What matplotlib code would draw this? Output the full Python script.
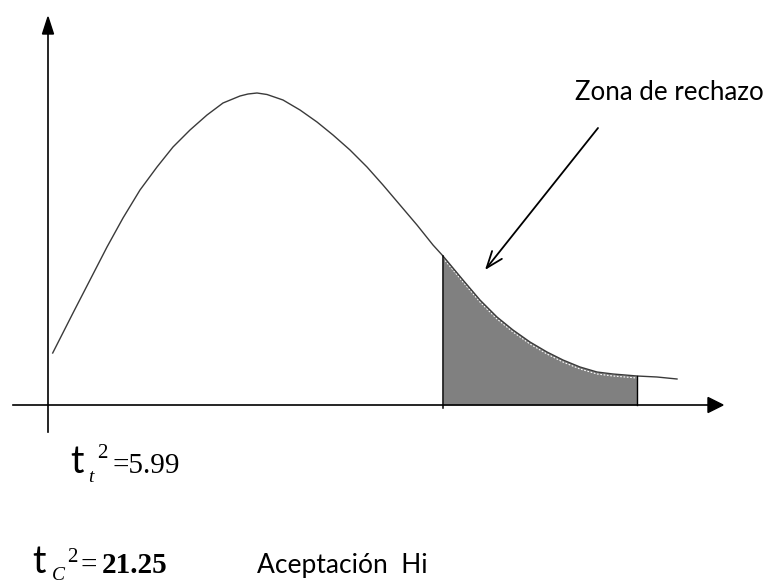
import matplotlib
matplotlib.use("Agg")
import matplotlib.pyplot as plt
import numpy as np

# Density curve (schematic chi-square-like)
curve_x = [4.7, 25, 42, 59, 75, 92, 109, 125, 142, 159, 175, 192, 200, 209, 219, 235,
           252, 269, 285, 302, 319, 335, 352, 369, 385, 395, 415, 432, 449, 465,
           482, 499, 515, 532, 549, 565, 589, 609, 629]
curve_y = [52, 92, 125, 158, 187, 215, 238, 258, 275, 290, 302, 309, 311, 312, 310.5, 305,
           295, 283, 270, 255, 238, 220, 200, 180, 160, 149, 125, 105, 88, 75,
           63, 53, 45, 38, 33, 31, 29, 28, 26]

# Rejection zone limits
zone_start = 395
zone_end = 589

label_zone = "Zona de rechazo"
label_tt_value = "=5.99"
label_tc_value = "21.25"
label_decision = "Aceptación  Hi"

fig = plt.figure(figsize=(7.74, 5.83), dpi=100)
ax = fig.add_axes([0, 0, 1, 1])
ax.set_xlim(-48, 726)
ax.set_ylim(-178, 405)
ax.axis("off")

cx = np.array(curve_x, dtype=float)
cy = np.array(curve_y, dtype=float)

# shaded rejection region
mask = (cx >= zone_start) & (cx <= zone_end)
ax.fill_between(cx[mask], 0, cy[mask], color="#808080", lw=0, zorder=1)

# curve
ax.plot(cx, cy, color="#3a3a3a", lw=1.0, zorder=3, solid_joinstyle="round")
ax.plot(cx[mask], cy[mask] - 2, color="white", lw=0.8, ls=(0, (1.5, 1.5)), zorder=2)

# boundary verticals
y_start = np.interp(zone_start, cx, cy)
y_end = np.interp(zone_end, cx, cy)
ax.plot([zone_start, zone_start], [-3, y_start], color="black", lw=1.1, zorder=4)
ax.plot([zone_end, zone_end], [0, y_end], color="black", lw=1.0, zorder=4)

# axes with arrow heads
ax.plot([-35, 662], [0, 0], color="black", lw=1.2, zorder=4)
ax.add_patch(plt.Polygon([[660, 7.5], [660, -7.5], [675, 0]], closed=True,
                         color="black", zorder=5))
ax.plot([0, 0], [-27, 372], color="black", lw=1.2, zorder=4)
ax.add_patch(plt.Polygon([[-5.5, 371], [5.5, 371], [0, 388]], closed=True,
                         color="black", zorder=5))

# annotation
ax.annotate("", xy=(437, 135), xytext=(550, 277),
            arrowprops=dict(arrowstyle="->,head_length=1.2,head_width=0.45",
                            color="black", lw=1.3, mutation_scale=10,
                            shrinkA=0, shrinkB=0))
ax.text(527, 305, label_zone, fontsize=18.6, family="Lato", ha="left", va="baseline")

# t_t^2 = 5.99
ax.text(22, -68, "t", fontsize=27, family="Lato", ha="left", va="baseline")
ax.text(40, -77, "t", fontsize=14, family="Liberation Serif", style="italic",
        ha="left", va="baseline")
ax.text(49, -53, "2", fontsize=15, family="Liberation Serif", ha="left", va="baseline")
ax.text(64, -68, label_tt_value, fontsize=21, family="Liberation Serif",
        ha="left", va="baseline")

# t_C^2 = 21.25
ax.text(-16, -168, "t", fontsize=27, family="Lato", ha="left", va="baseline")
ax.text(4, -175, "C", fontsize=14, family="Liberation Serif", style="italic",
        ha="left", va="baseline")
ax.text(19, -157, "2", fontsize=15, family="Liberation Serif", ha="left", va="baseline")
ax.text(32, -168, "=", fontsize=21, family="Liberation Serif", ha="left", va="baseline")
ax.text(54, -168, label_tc_value, fontsize=21, family="Liberation Serif",
        weight="bold", ha="left", va="baseline")
ax.text(209, -168, label_decision, fontsize=19, family="Lato", ha="left", va="baseline")

fig.savefig("out.png", dpi=100)
